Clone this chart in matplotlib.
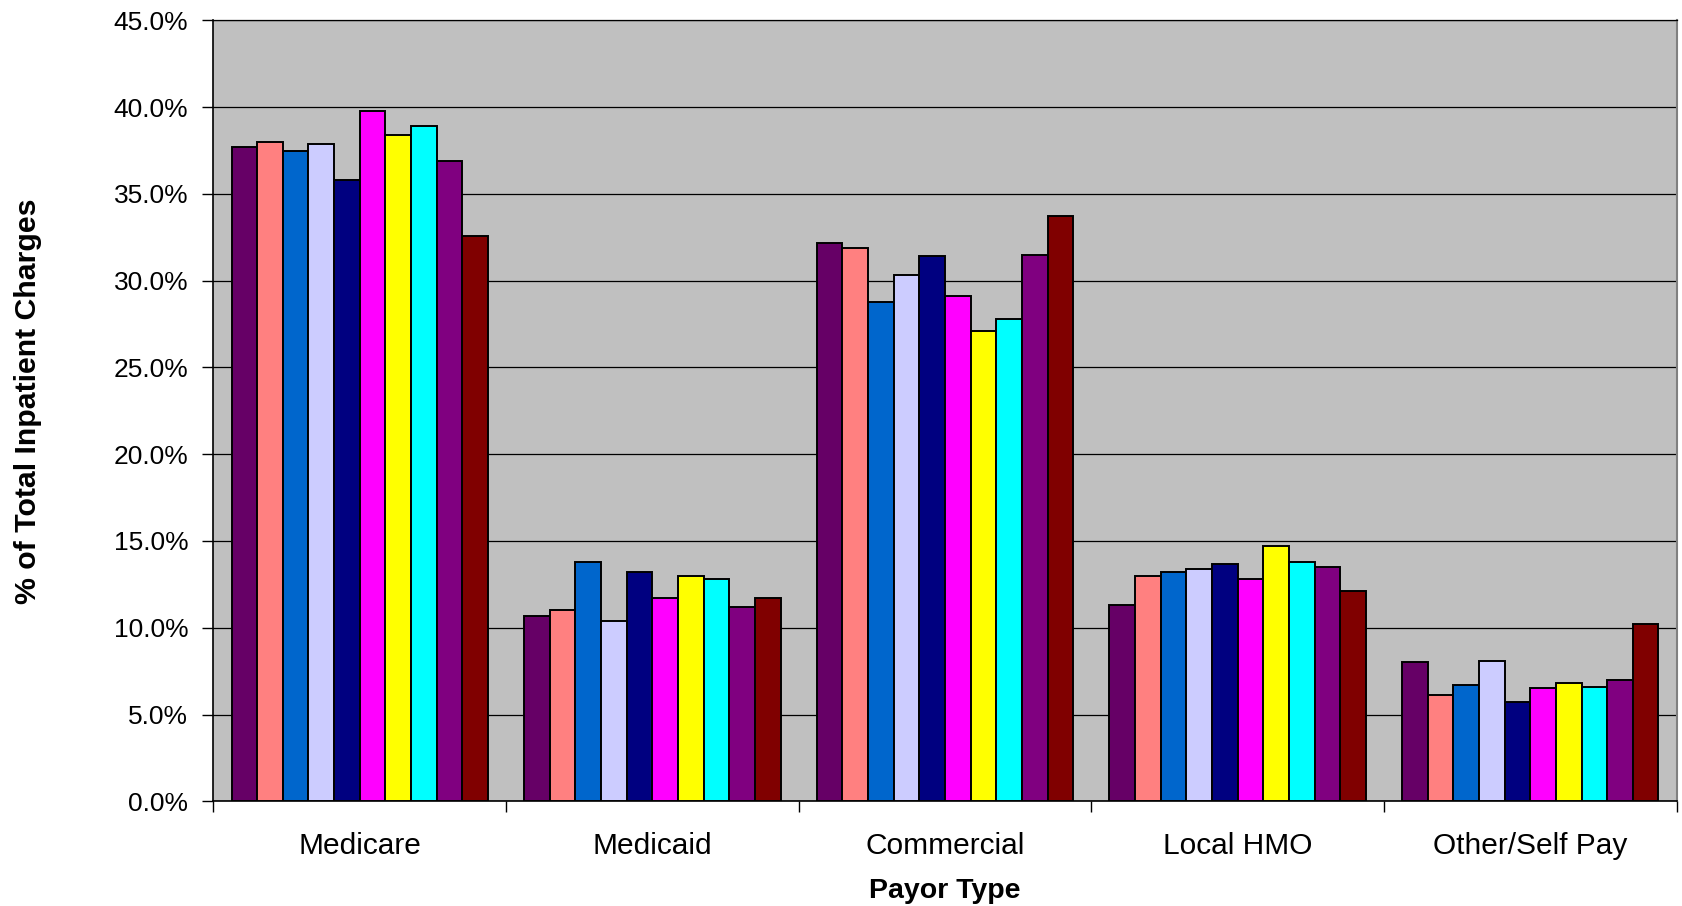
import matplotlib
matplotlib.use("Agg")
import matplotlib.pyplot as plt
import numpy as np
from matplotlib.ticker import FuncFormatter, FixedLocator

payors = ["Medicare", "Medicaid", "Commercial", "Local HMO", "Other/Self Pay"]

# one list per series, values in % of total inpatient charges, in payor order
s1 = [37.7, 10.7, 32.2, 11.3, 8.0]
s2 = [38.0, 11.0, 31.9, 13.0, 6.1]
s3 = [37.5, 13.8, 28.8, 13.2, 6.7]
s4 = [37.9, 10.4, 30.3, 13.4, 8.1]
s5 = [35.8, 13.2, 31.4, 13.7, 5.7]
s6 = [39.8, 11.7, 29.1, 12.8, 6.5]
s7 = [38.4, 13.0, 27.1, 14.7, 6.8]
s8 = [38.9, 12.8, 27.8, 13.8, 6.6]
s9 = [36.9, 11.2, 31.5, 13.5, 7.0]
s10 = [32.6, 11.7, 33.7, 12.1, 10.2]
series = [s1, s2, s3, s4, s5, s6, s7, s8, s9, s10]

colors = ["#660066", "#FF8080", "#0066CC", "#CCCCFF", "#000080",
          "#FF00FF", "#FFFF00", "#00FFFF", "#800080", "#800000"]

plt.rcParams["font.family"] = ["Liberation Sans", "DejaVu Sans"]

fig = plt.figure(figsize=(16.82, 9.06), dpi=100)
ax = fig.add_axes([0.1269, 0.1156, 0.8699, 0.8619])
ax.set_facecolor("#C0C0C0")

x = np.arange(len(payors))
n = len(series)
w = 0.876 / n
for k, vals in enumerate(series):
    ax.bar(x - 0.438 + w * (k + 0.5), vals, width=w, color=colors[k],
           edgecolor="black", linewidth=1.4, zorder=3)

ax.set_xlim(-0.5, len(payors) - 0.5)
ax.set_ylim(0, 45)
ax.set_yticks(np.arange(0, 46, 5))
ax.yaxis.set_major_formatter(FuncFormatter(lambda v, p: f"{v:.1f}%"))
ax.grid(axis="y", color="black", linewidth=0.9, zorder=1)

# category labels sit between the boundary ticks
ax.xaxis.set_major_locator(FixedLocator(np.arange(-0.5, len(payors), 1.0)))
ax.xaxis.set_major_formatter(FuncFormatter(lambda v, p: ""))
ax.set_xticks(x, minor=True)
ax.set_xticklabels(payors, minor=True)
ax.tick_params(axis="x", which="major", direction="out", length=8, width=1)
ax.tick_params(axis="x", which="minor", length=0, pad=22, labelsize=21.5)
ax.tick_params(axis="y", direction="out", length=8, width=1, pad=10, labelsize=19)

for side in ("left", "bottom"):
    ax.spines[side].set_color("black")
    ax.spines[side].set_linewidth(1.2)
ax.spines["right"].set_color("#808080")
ax.spines["right"].set_linewidth(1.5)
ax.spines["top"].set_color("black")
ax.spines["top"].set_linewidth(0.9)

fig.text(945 / 1682, 1 - 898 / 906, "Payor Type", ha="center", va="baseline",
         fontsize=20.5, fontweight="bold")
fig.text(28 / 1682, 1 - 401 / 906, "% of Total Inpatient Charges",
         rotation=90, ha="center", va="center", fontsize=21.8, fontweight="bold")

fig.savefig("out.png", dpi=100)
